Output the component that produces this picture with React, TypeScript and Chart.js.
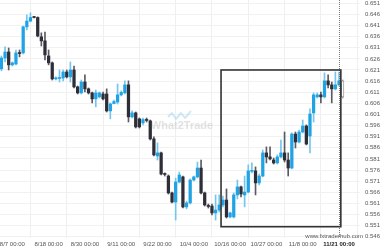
import React, { useEffect, useRef } from "react";
import { Chart, registerables } from "chart.js";
Chart.register(...registerables);

const opens = [
  0.6215, 0.6264, 0.6291, 0.6233, 0.6237, 0.6287, 0.6287, 0.6404, 0.643, 0.6449,
  0.6446, 0.6359, 0.6341, 0.6273, 0.6242, 0.617, 0.6172, 0.6174, 0.6201, 0.6179,
  0.621, 0.6134, 0.6107, 0.6156, 0.6125, 0.6107, 0.608, 0.6089, 0.6102, 0.6102,
  0.6026, 0.6059, 0.6066, 0.6098, 0.6107, 0.6143, 0.5999, 0.6017, 0.599, 0.5972,
  0.5985, 0.5981, 0.59, 0.5823, 0.5837, 0.5742, 0.5733, 0.5657, 0.5616, 0.5706,
  0.5729, 0.5594, 0.5612, 0.5715, 0.5729, 0.5769, 0.5657, 0.5598, 0.5598, 0.5567,
  0.558, 0.5603, 0.5625, 0.5549, 0.5549, 0.5648, 0.5684, 0.5648, 0.5661, 0.5754,
  0.5756, 0.5702, 0.5733, 0.5837, 0.5819, 0.5805, 0.5792, 0.5819, 0.5837, 0.5805,
  0.5769, 0.5922, 0.5886, 0.5931, 0.5958, 0.5913, 0.6017, 0.6089, 0.6098, 0.6089,
  0.6161, 0.6143, 0.6125, 0.6143, 0.6161,
];
const highs = [
  0.6273, 0.6314, 0.6309, 0.6246, 0.63, 0.63, 0.6408, 0.6458, 0.6467, 0.6451,
  0.6449, 0.6377, 0.6381, 0.63, 0.6246, 0.6179, 0.621, 0.621, 0.621, 0.6246,
  0.6228, 0.6138, 0.6165, 0.6188, 0.6129, 0.6111, 0.612, 0.6111, 0.6111, 0.6125,
  0.6062, 0.6075, 0.6147, 0.6116, 0.6161, 0.6161, 0.6026, 0.6021, 0.5994, 0.5994,
  0.5994, 0.5985, 0.5909, 0.5882, 0.5841, 0.5747, 0.5738, 0.5661, 0.5724, 0.5751,
  0.5733, 0.562, 0.572, 0.5733, 0.5796, 0.5805, 0.5661, 0.5607, 0.5607, 0.5648,
  0.5648, 0.5643, 0.5675, 0.5571, 0.5657, 0.5715, 0.5688, 0.5733, 0.5783, 0.5792,
  0.5774, 0.5742, 0.585, 0.5864, 0.5864, 0.5814, 0.5828, 0.5895, 0.5931, 0.5837,
  0.5927, 0.5931, 0.594, 0.5985, 0.5963, 0.6035, 0.6107, 0.6107, 0.6111, 0.6197,
  0.6188, 0.6156, 0.6201, 0.6201, 0.6165,
];
const lows = [
  0.6206, 0.6246, 0.621, 0.6228, 0.6233, 0.6269, 0.6282, 0.639, 0.6426, 0.6444,
  0.6359, 0.6318, 0.6255, 0.6233, 0.6165, 0.6165, 0.6156, 0.6161, 0.6174, 0.6156,
  0.6129, 0.6102, 0.6102, 0.6111, 0.6102, 0.6062, 0.6044, 0.6084, 0.6075, 0.6021,
  0.599, 0.6057, 0.6057, 0.6093, 0.6102, 0.5976, 0.5994, 0.5949, 0.5949, 0.5963,
  0.5976, 0.5895, 0.5823, 0.5805, 0.5738, 0.5733, 0.5652, 0.5612, 0.5535, 0.5702,
  0.5589, 0.5585, 0.5607, 0.5711, 0.5724, 0.5652, 0.5598, 0.5589, 0.5558, 0.5535,
  0.5571, 0.5594, 0.5544, 0.5544, 0.5544, 0.563, 0.5639, 0.5594, 0.5657, 0.5747,
  0.5648, 0.5693, 0.5729, 0.5792, 0.5805, 0.5787, 0.5787, 0.5814, 0.5796, 0.5733,
  0.5765, 0.5859, 0.5882, 0.5927, 0.5873, 0.5837, 0.5976, 0.6084, 0.6062, 0.6084,
  0.6129, 0.6062, 0.612, 0.6138, 0.6084,
];
const closes = [
  0.6264, 0.6291, 0.6233, 0.6242, 0.6287, 0.6284, 0.6404, 0.643, 0.6446, 0.6446,
  0.6363, 0.6341, 0.6278, 0.6242, 0.617, 0.6172, 0.6176, 0.6201, 0.6179, 0.621,
  0.6134, 0.6107, 0.6156, 0.6125, 0.6107, 0.608, 0.6107, 0.6107, 0.608, 0.6026,
  0.6057, 0.6068, 0.6098, 0.6109, 0.6143, 0.5999, 0.6017, 0.5954, 0.5954, 0.5987,
  0.5983, 0.59, 0.5828, 0.5837, 0.5742, 0.574, 0.5657, 0.5616, 0.5706, 0.5738,
  0.5594, 0.5612, 0.5715, 0.5729, 0.5769, 0.5657, 0.5603, 0.5596, 0.5567, 0.558,
  0.5603, 0.5625, 0.5549, 0.5567, 0.5648, 0.5684, 0.5652, 0.5661, 0.5756, 0.5758,
  0.5702, 0.5733, 0.5837, 0.5819, 0.581, 0.5792, 0.5819, 0.5837, 0.5805, 0.5769,
  0.5922, 0.5886, 0.5931, 0.5958, 0.5877, 0.6012, 0.6098, 0.6098, 0.6089, 0.6161,
  0.6143, 0.6125, 0.6143, 0.6161, 0.6089,
];

const tickIdx = [3, 13, 23, 33, 43, 53, 63, 73, 83, 93];
const tickLabels = [
  "8/7 00:00", "8/18 00:00", "8/30 00:00", "9/11 00:00", "9/22 00:00",
  "10/4 00:00", "10/16 00:00", "10/27 00:00", "11/8 00:00", "11/21 00:00",
];
const yTicks = [
  0.546, 0.551, 0.556, 0.561, 0.566, 0.571, 0.576, 0.581, 0.586, 0.591, 0.596,
  0.601, 0.606, 0.611, 0.616, 0.621, 0.626, 0.631, 0.636, 0.641, 0.646, 0.651,
];

// highlighted pattern box (data coordinates)
const boxStart = 60.5;
const boxEnd = 93.5;
const boxTop = 0.621;
const boxBottom = 0.5505;
const markerIndex = 93;

const BLUE = "#1fa3e4";
const DARK = "#2e2e38";
const FONT = "'Liberation Sans', Arial, sans-serif";

export default function App() {
  const ref = useRef<HTMLCanvasElement>(null);
  useEffect(() => {
    document.body.style.margin = "0";
    const n = opens.length;
    const live = n - 1;
    const idx = opens.map((_, i) => i);
    const bull = idx.map((i) => closes[i] >= opens[i]);
    const bodyBg = idx.map((i) => (i === live ? "#ffffff" : bull[i] ? BLUE : DARK));
    const bodyBorder = idx.map((i) => (i === live ? "#9a9a9a" : bull[i] ? BLUE : DARK));
    const wickColors = idx.map((i) => (i === live ? "#9a9a9a" : bull[i] ? "#74c6ef" : "#5a5a62"));

    const overlay = {
      id: "overlay",
      beforeDatasetsDraw(chart: any) {
        const { ctx, chartArea } = chart;
        const cx = (chartArea.left + chartArea.right) / 2;
        ctx.save();
        // watermark logo
        ctx.strokeStyle = "rgba(120,190,235,0.35)";
        ctx.lineWidth = 2;
        ctx.lineJoin = "round";
        ctx.beginPath();
        const lx = cx - 12, ly = 117;
        ctx.moveTo(lx, ly);
        ctx.lineTo(lx + 4, ly - 4);
        ctx.lineTo(lx + 8, ly + 2);
        ctx.lineTo(lx + 13, ly - 4);
        ctx.lineTo(lx + 17, ly + 1);
        ctx.lineTo(lx + 23, ly - 6);
        ctx.stroke();
        ctx.font = `bold 11px ${FONT}`;
        ctx.fillStyle = "rgba(190,190,190,0.45)";
        ctx.textAlign = "center";
        ctx.textBaseline = "middle";
        ctx.fillText("What2Trade", cx + 2, 126);
        ctx.restore();
      },
      afterDatasetsDraw(chart: any) {
        const { ctx, chartArea, scales } = chart;
        const xs = scales.x, ys = scales.y;
        ctx.save();
        const mx = Math.round(xs.getPixelForValue(markerIndex)) + 0.5;
        ctx.strokeStyle = "#777";
        ctx.lineWidth = 1;
        ctx.setLineDash([1, 1]);
        ctx.beginPath();
        ctx.moveTo(mx, chartArea.top);
        ctx.lineTo(mx, chartArea.bottom);
        ctx.stroke();
        ctx.setLineDash([]);
        const x1 = xs.getPixelForValue(boxStart);
        const x2 = xs.getPixelForValue(boxEnd);
        const y1 = ys.getPixelForValue(boxTop);
        const y2 = ys.getPixelForValue(boxBottom);
        ctx.strokeStyle = "#333";
        ctx.lineWidth = 1.6;
        ctx.strokeRect(x1, y1, x2 - x1, y2 - y1);
        ctx.restore();
      },
      afterDraw(chart: any) {
        const { ctx } = chart;
        ctx.save();
        ctx.font = `6px ${FONT}`;
        ctx.fillStyle = "#555";
        ctx.textAlign = "right";
        ctx.textBaseline = "middle";
        ctx.fillText("www.fxtraderhub.com", chart.width - 17, 236);
        ctx.restore();
      },
    };

    const chart = new Chart(ref.current as HTMLCanvasElement, {
      type: "bar",
      data: {
        datasets: [
          {
            label: "wick",
            data: idx.map((i) => ({ x: i, y: [lows[i], highs[i]] })) as any,
            backgroundColor: wickColors,
            barThickness: 1,
            grouped: false,
            order: 2,
          } as any,
          {
            label: "body",
            data: idx.map((i) => ({
              x: i,
              y: [Math.min(opens[i], closes[i]), Math.max(opens[i], closes[i])],
            })) as any,
            backgroundColor: bodyBg,
            borderColor: bodyBorder,
            borderWidth: (c: any) => (c.dataIndex === live ? 1 : 0),
            borderSkipped: false,
            barThickness: 2.6,
            minBarLength: 1,
            grouped: false,
            order: 1,
          } as any,
        ],
      },
      options: {
        animation: false,
        responsive: false,
        maintainAspectRatio: false,
        layout: { padding: 0 },
        plugins: { legend: { display: false }, tooltip: { enabled: false } },
        scales: {
          x: {
            type: "linear",
            min: -0.39,
            max: 98.78,
            offset: false,
            grid: { color: "#efefef", drawTicks: false },
            border: { display: false },
            ticks: {
              padding: 3,
              autoSkip: false,
              maxRotation: 0,
              color: (c: any) => (c.index === tickIdx.length - 1 ? "#222" : "#555"),
              font: (c: any) => ({
                size: 6,
                family: FONT,
                weight: c.index === tickIdx.length - 1 ? "bold" : "normal",
              }),
              callback: (v: any) => {
                const k = tickIdx.indexOf(Number(v));
                return k >= 0 ? tickLabels[k] : "";
              },
            },
            afterBuildTicks: (s: any) => {
              s.ticks = tickIdx.map((v) => ({ value: v }));
            },
            afterFit: (s: any) => {
              s.height = 12;
              s.paddingLeft = 0;
              s.paddingRight = 0;
            },
          } as any,
          y: {
            position: "right",
            min: 0.54542,
            max: 0.65248,
            grid: { color: "#f1f1f1", drawTicks: false },
            border: { display: false },
            ticks: {
              padding: 5,
              color: "#555",
              font: { size: 6, family: FONT },
              callback: (v: any) => Number(v).toFixed(3),
            },
            afterBuildTicks: (s: any) => {
              s.ticks = yTicks.map((v) => ({ value: v }));
            },
            afterFit: (s: any) => {
              s.width = 20;
              s.paddingTop = 0;
              s.paddingBottom = 0;
            },
          } as any,
        },
      },
      plugins: [overlay],
    });
    return () => chart.destroy();
  }, []);
  return <canvas ref={ref} width={380} height={250} style={{ display: "block" }} />;
}
